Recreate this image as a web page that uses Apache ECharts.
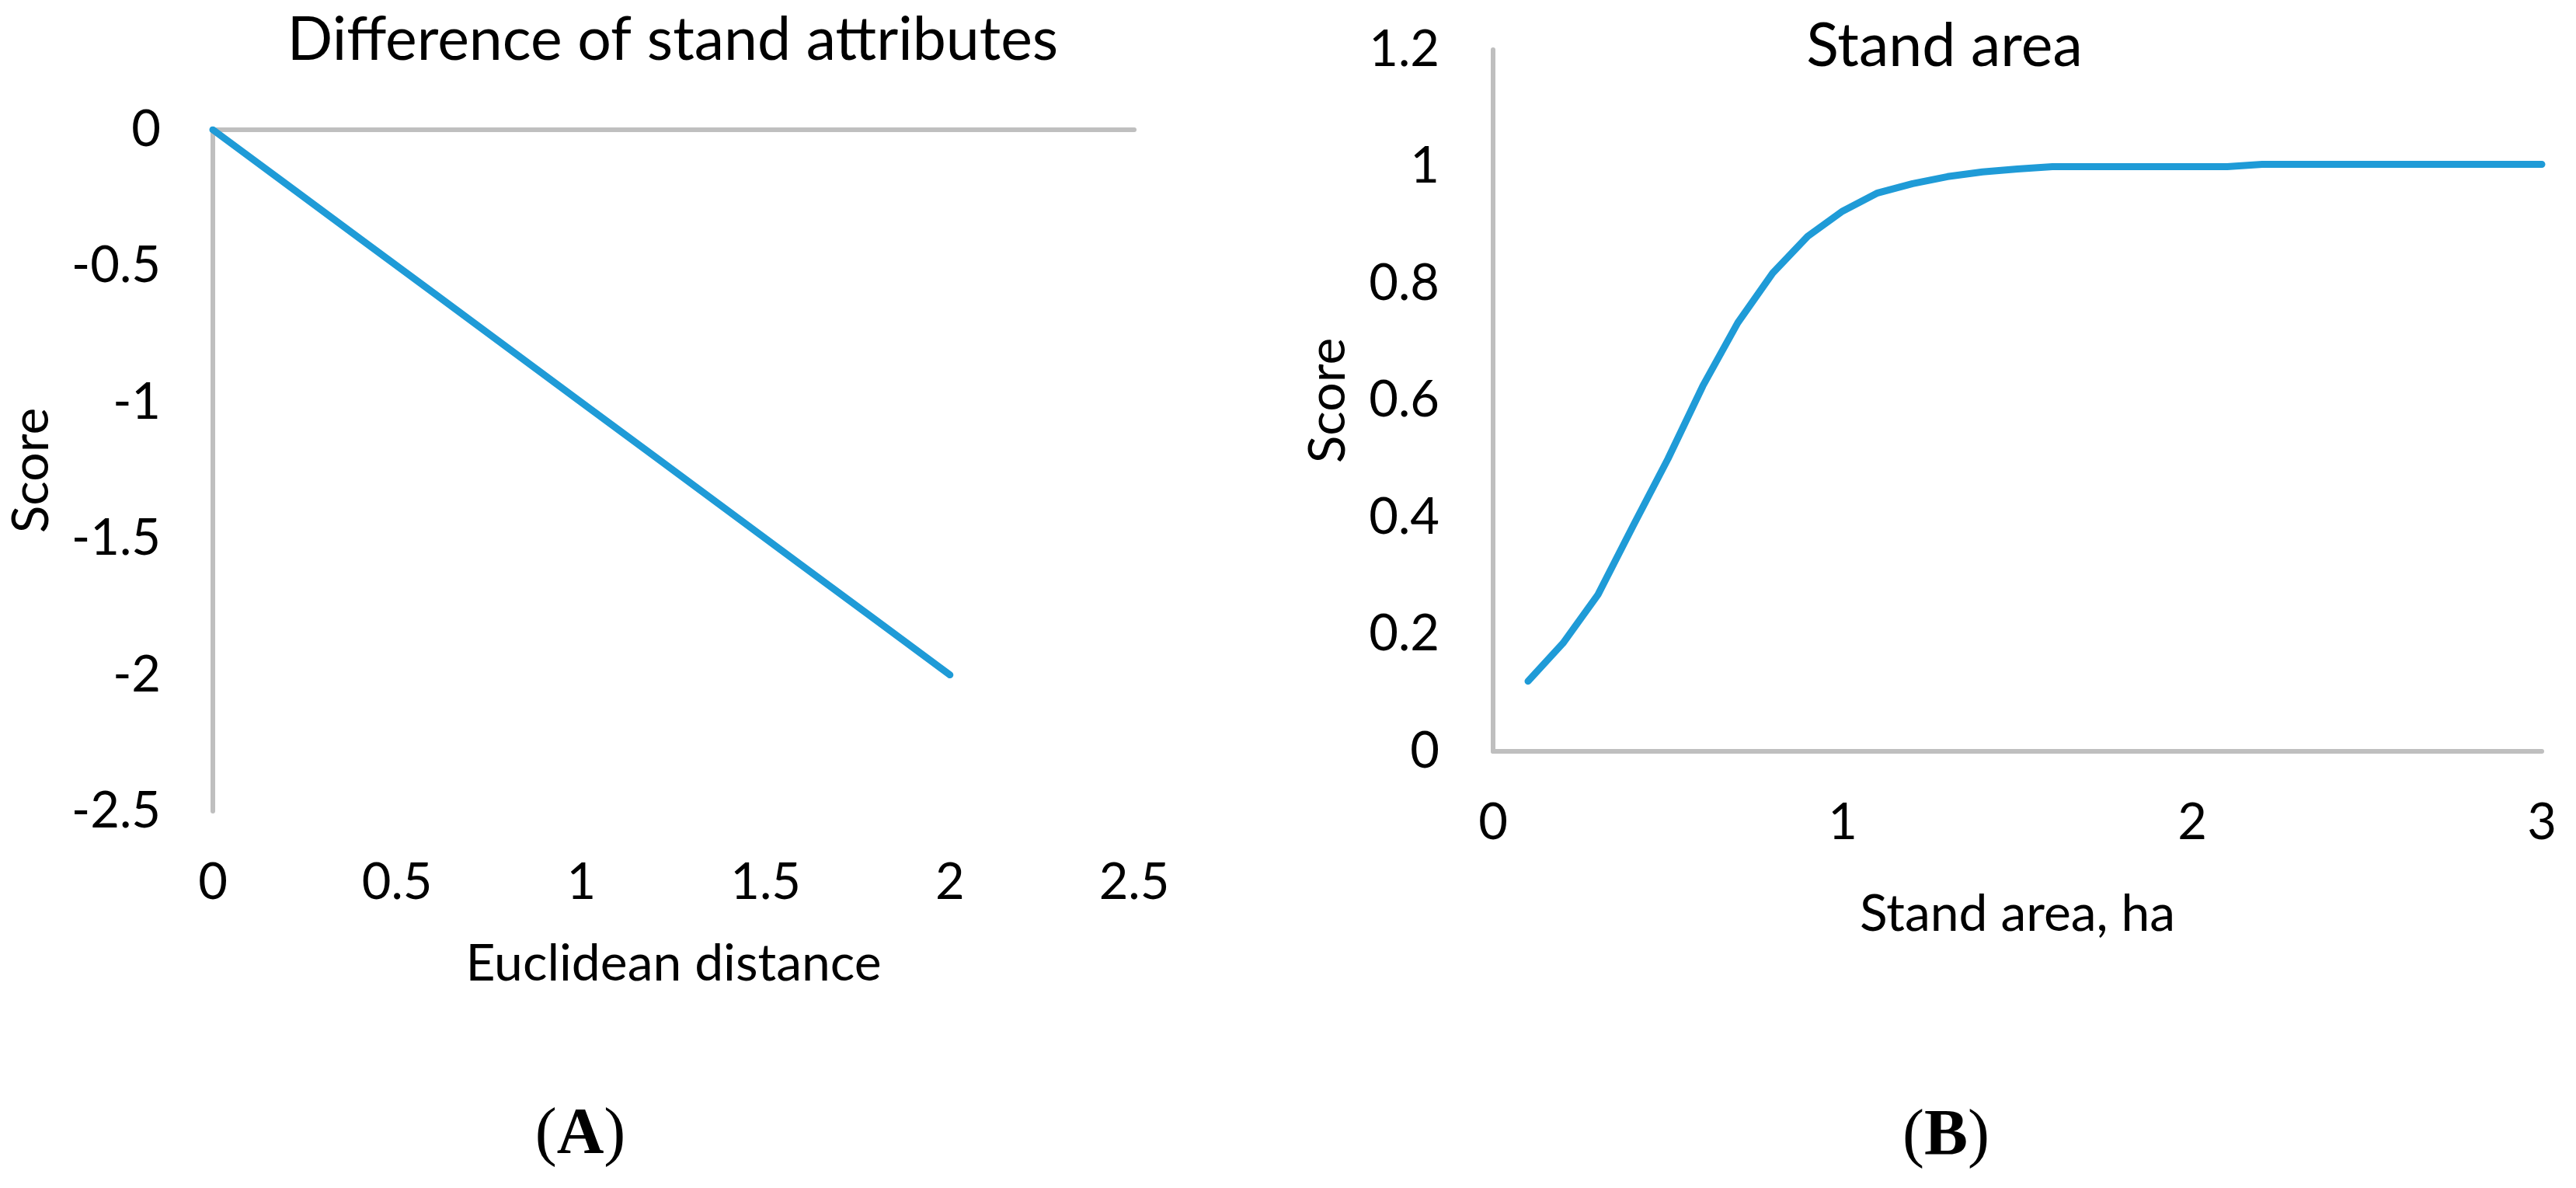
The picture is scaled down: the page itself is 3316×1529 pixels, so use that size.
<!DOCTYPE html>
<html lang="en">
<head>
<meta charset="UTF-8" />
<title>Stand attribute and stand area scores</title>
<script src="https://cdn.jsdelivr.net/npm/echarts@6/dist/echarts.min.js"></script>
<style>
  html, body { margin: 0; padding: 0; background: #fff; }
  #main { width: 3316px; height: 1529px; }
</style>
</head>
<body>
<div id="main"></div>
<script>
// (A) difference of stand attributes
const distA = [0, 0.2, 0.4, 0.6, 0.8, 1.0, 1.2, 1.4, 1.6, 1.8, 2.0];
const scoreA = [0, -0.2, -0.4, -0.6, -0.8, -1.0, -1.2, -1.4, -1.6, -1.8, -2.0];

// (B) stand area, ha
const areaB = [0.1, 0.2, 0.3, 0.4, 0.5, 0.6, 0.7, 0.8, 0.9, 1.0,
  1.1, 1.2, 1.3, 1.4, 1.5, 1.6, 1.7, 1.8, 1.9, 2.0,
  2.1, 2.2, 2.3, 2.4, 2.5, 2.6, 2.7, 2.8, 2.9, 3.0];
const scoreB = [0.12, 0.185, 0.268, 0.385, 0.5, 0.625, 0.733, 0.818, 0.881, 0.924,
  0.955, 0.971, 0.983, 0.991, 0.996, 1.0, 1.0, 1.0, 1.0, 1.0,
  1.0, 1.004, 1.004, 1.004, 1.004, 1.004, 1.004, 1.004, 1.004, 1.004];

const titles = ['Difference of stand attributes', 'Stand area'];
const xNames = ['Euclidean distance', 'Stand area, ha'];
const yName = 'Score';

const blue = '#1F9BD7';
const grey = '#BFBFBF';
const font = 'Lato';

const lbl = (margin) => ({
  show: true, color: '#000', fontSize: 65, fontFamily: font, margin: margin
});
const line = { show: true, onZero: false, lineStyle: { color: grey, width: 6 } };
const nameStyle = { color: '#000', fontSize: 66, fontFamily: font };

const panelLetter = (ch, x, y) => ({
  type: 'text', x: x, y: y,
  style: {
    text: '({b|' + ch + '})', fontSize: 84, fontFamily: 'Liberation Serif', fill: '#000',
    align: 'center', verticalAlign: 'middle',
    rich: { b: { fontSize: 84, fontFamily: 'Liberation Serif', fontWeight: 'bold' } }
  }
});

const chart = echarts.init(document.getElementById('main'));
chart.setOption({
  animation: false,
  backgroundColor: '#fff',
  grid: [
    { left: 274, top: 167, width: 1186, height: 877 },
    { left: 1922, top: 64, width: 1350, height: 903 }
  ],
  xAxis: [
    {
      type: 'value', gridIndex: 0, min: 0, max: 2.5, interval: 0.5,
      axisLine: { show: false }, axisTick: { show: false }, splitLine: { show: false },
      axisLabel: lbl(60),
      name: xNames[0], nameLocation: 'middle', nameGap: 164, nameTextStyle: nameStyle
    },
    {
      // the zero line sits on top of panel A
      type: 'value', gridIndex: 0, position: 'top', min: 0, max: 2.5,
      axisLine: line, axisTick: { show: false }, splitLine: { show: false },
      axisLabel: { show: false }
    },
    {
      type: 'value', gridIndex: 1, min: 0, max: 3, interval: 1,
      axisLine: line, axisTick: { show: false }, splitLine: { show: false },
      axisLabel: lbl(60),
      name: xNames[1], nameLocation: 'middle', nameGap: 177, nameTextStyle: nameStyle
    }
  ],
  yAxis: [
    {
      type: 'value', gridIndex: 0, min: -2.5, max: 0, interval: 0.5,
      axisLine: line, axisTick: { show: false }, splitLine: { show: false },
      axisLabel: lbl(67),
      name: yName, nameLocation: 'middle', nameGap: 200, nameTextStyle: nameStyle
    },
    {
      type: 'value', gridIndex: 1, min: 0, max: 1.2, interval: 0.2,
      axisLine: line, axisTick: { show: false }, splitLine: { show: false },
      axisLabel: lbl(69),
      name: yName, nameLocation: 'middle', nameGap: 179, nameTextStyle: nameStyle
    }
  ],
  series: [
    {
      type: 'line', xAxisIndex: 0, yAxisIndex: 0,
      data: distA.map((d, i) => [d, scoreA[i]]),
      showSymbol: false, lineStyle: { color: blue, width: 9, cap: 'round' }
    },
    {
      type: 'line', xAxisIndex: 2, yAxisIndex: 1,
      data: areaB.map((d, i) => [d, scoreB[i]]),
      showSymbol: false, lineStyle: { color: blue, width: 9, cap: 'round', join: 'round' }
    }
  ],
  graphic: [
    { type: 'text', x: 866, y: 52, style: { text: titles[0], fontSize: 77, fontFamily: font, fill: '#000', align: 'center', verticalAlign: 'middle' } },
    { type: 'text', x: 2503, y: 60, style: { text: titles[1], fontSize: 77, fontFamily: font, fill: '#000', align: 'center', verticalAlign: 'middle' } },
    panelLetter('A', 747, 1462),
    panelLetter('B', 2505, 1464)
  ]
});
</script>
</body>
</html>
